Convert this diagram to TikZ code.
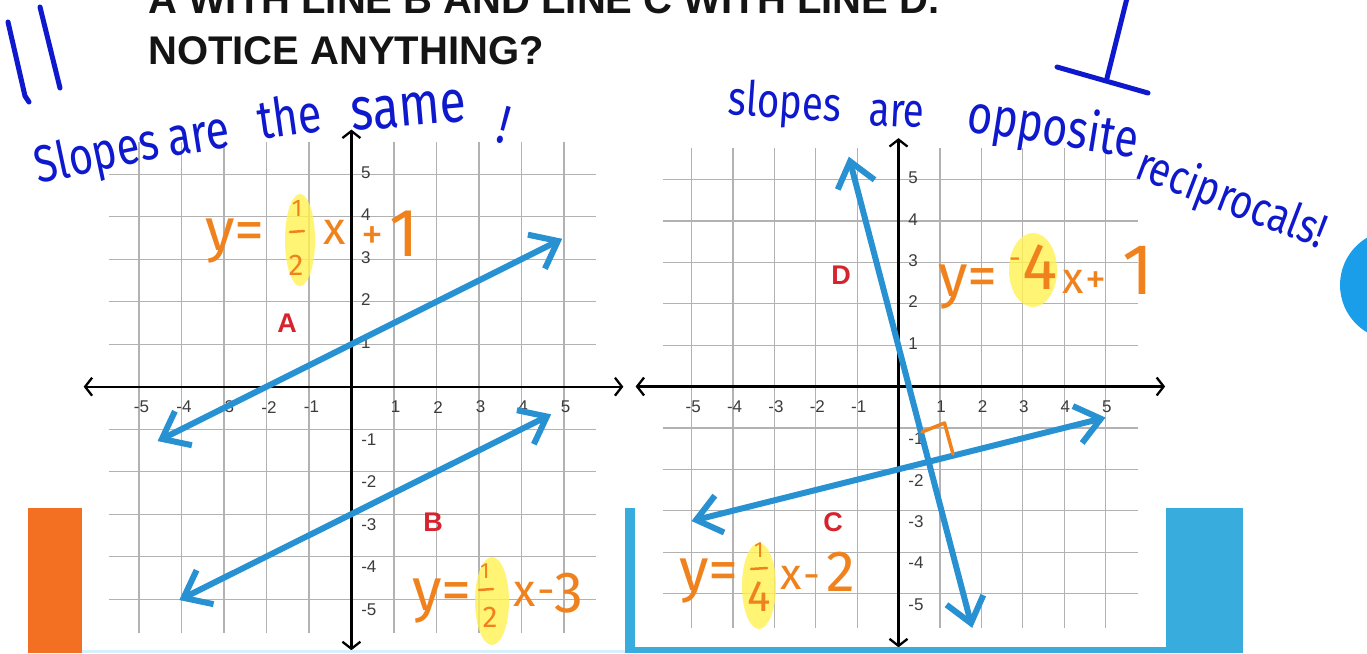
\documentclass[tikz,border=0pt]{standalone}
\usepackage{fontspec}
\setmainfont{Liberation Sans}
\newfontfamily\hand[FakeStretch=0.8]{Fira Sans}
\newfontfamily\handeq{Fira Sans}
\usetikzlibrary{arrows.meta}
\definecolor{penblue}{RGB}{14,24,205}
\definecolor{lineblue}{RGB}{40,145,210}
\definecolor{penorange}{RGB}{240,130,30}
\definecolor{hilite}{RGB}{255,242,80}
\definecolor{labred}{RGB}{215,35,45}
\definecolor{gridgray}{RGB}{178,178,178}
\definecolor{tickgray}{RGB}{60,60,60}
\definecolor{barorange}{RGB}{243,111,33}
\definecolor{barblue}{RGB}{56,172,220}
\definecolor{dotblue}{RGB}{27,158,233}
\definecolor{lightcyan}{RGB}{212,240,250}
\begin{document}
\begin{tikzpicture}[x=1pt,y=-1pt,
  gridline/.style={draw=gridgray, line width=1.2pt},
  axisline/.style={draw=black, line width=2.3pt, >={Straight Barb[length=7pt,width=18pt]}, <->},
  slopeline/.style={draw=lineblue, line width=6pt, line cap=round, >={Straight Barb[length=24pt,width=38pt]}, <->},
  ticklab/.style={font=\fontsize{17}{17}\selectfont, text=tickgray, inner sep=0pt},
  ptlabel/.style={font=\bfseries\fontsize{27}{27}\selectfont, text=labred, inner sep=0pt},
  titletext/.style={font=\bfseries\fontsize{40}{40}\selectfont, text=black!92, inner sep=0pt, anchor=base west},
  handtext/.style={font=\hand\fontsize{54}{54}\selectfont, text=penblue, inner sep=0pt, anchor=base west},
  pen/.style={draw=penblue, line width=5pt, line cap=round, line join=round},
  eq/.style={font=\handeq\fontsize{60}{60}\selectfont, text=penorange, inner sep=0pt},
  orpen/.style={draw=penorange, line width=3.5pt, line cap=round, line join=round},
  hl/.style={fill=hilite, fill opacity=0.8}
]
\useasboundingbox (0,0) rectangle (1367,653);
\fill[white] (0,0) rectangle (1367,653);

% ---------- titles ----------
\node[titletext] (t0) at (148,13) {A WITH LINE B AND LINE C WITH LINE D.};
\node[titletext] (t1) at (148,64) {NOTICE ANYTHING?};

% ---------- left graph ----------
\begin{scope}[shift={(351.4,386.7)}, x=42.5pt, y=42.5pt]
  \foreach \i in {-5,...,5} \draw[gridline] (\i,-5.8) -- (\i,5.75);
  \foreach \j in {-5,...,5} \draw[gridline] (-5.7,\j) -- (5.75,\j);
  \draw[axisline] (-6.3,0) -- (6.4,0);
  \draw[axisline] (0,-6.2) -- (0,6.05);
  \foreach \i in {1,...,5} \node[ticklab] (lxn\i) at (-\i+0.06,-0.48) {-\i};
  \foreach \i in {1,...,5} \node[ticklab] (lxp\i) at (\i+0.04,-0.48) {\i};
  \foreach \j in {1,...,5} \node[ticklab] (lyp\j) at (0.34,\j+0.04) {\j};
  \foreach \j in {1,...,5} \node[ticklab] (lyn\j) at (0.41,-\j-0.24) {-\j};
\end{scope}

% ---------- right graph ----------
\begin{scope}[shift={(898.5,386.5)}, x=41.4pt, y=41.4pt]
  \foreach \i in {-5,...,5} \draw[gridline] (\i,-5.83) -- (\i,5.76);
  \foreach \j in {-5,...,5} \draw[gridline] (-5.69,\j) -- (5.79,\j);
  \draw[axisline] (-6.35,0) -- (6.44,0);
  \draw[axisline] (0,-6.3) -- (0,6.0);
  \foreach \i in {1,...,5} \node[ticklab] (rxn\i) at (-\i+0.04,-0.49) {-\i};
  \foreach \i in {1,...,5} \node[ticklab] (rxp\i) at (\i+0.03,-0.49) {\i};
  \foreach \j in {1,...,5} \node[ticklab] (ryp\j) at (0.35,\j+0.04) {\j};
  \foreach \j in {1,...,5} \node[ticklab] (ryn\j) at (0.42,-\j-0.26) {-\j};
\end{scope}

% ---------- highlights ----------
\fill[hl] (300,240) ellipse [x radius=15pt, y radius=46pt];
\fill[hl] (492,601) ellipse [x radius=17pt, y radius=44pt];
\fill[hl] (1033,270) ellipse [x radius=24pt, y radius=37pt];
\fill[hl] (759,586) ellipse [x radius=17pt, y radius=43pt];

% ---------- slope lines ----------
\begin{scope}[shift={(351.4,386.7)}, x=42.5pt, y=42.5pt]
  \draw[slopeline] (-4.56,-1.28) -- (4.96,3.48);
  \draw[slopeline] (-4.05,-5.02) -- (4.70,-0.65);
\end{scope}
\begin{scope}[shift={(898.5,386.5)}, x=41.4pt, y=41.4pt]
  \draw[slopeline] (-5,-3.25) -- (5,-0.75);
  \draw[slopeline] (-1.2,5.55) -- (1.78,-5.83);
\end{scope}

% right angle mark
\draw[orpen] (922,432) -- (944.5,423) -- (953,454);

% ---------- point labels ----------
\node[ptlabel] (la) at (287,323) {A};
\node[ptlabel] (lb) at (433,522) {B};
\node[ptlabel] (lc) at (833,522) {C};
\node[ptlabel] (ld) at (841,275) {D};

% ---------- orange equations ----------
% y = 1/2 x + 1
\node[eq, anchor=base west] (e1y) at (205,250) {y=};
\node[eq, font=\handeq\fontsize{24}{24}\selectfont] (e1n) at (297,208) {1};
\draw[orpen, line width=2.5pt] (290,232) -- (304,231);
\node[eq, font=\handeq\fontsize{30}{30}\selectfont] (e1d) at (296,265) {2};
\node[eq, font=\handeq\fontsize{46}{46}\selectfont] (e1x) at (335,232) {x};
\node[eq, font=\handeq\fontsize{44}{44}\selectfont] (e1p) at (372,238) {+};
\node[eq, font=\handeq\fontsize{68}{68}\selectfont] (e1c) at (404,234) {1};
% y = 1/2 x - 3
\node[eq, anchor=base west] (e2y) at (412,610) {y=};
\node[eq, font=\handeq\fontsize{22}{22}\selectfont] (e2n) at (485,571) {1};
\draw[orpen, line width=2.5pt] (479,590) -- (493,589);
\node[eq, font=\handeq\fontsize{30}{30}\selectfont] (e2d) at (490,617) {2};
\node[eq, font=\handeq\fontsize{46}{46}\selectfont] (e2x) at (525,594) {x};
\node[eq, font=\handeq\fontsize{44}{44}\selectfont] (e2m) at (546,598) {-};
\node[eq, font=\handeq\fontsize{58}{58}\selectfont] (e2c) at (569,593) {3};
% y = -4x + 1
\node[eq, anchor=base west] (e3y) at (938,296) {y=};
\node[eq, font=\handeq\fontsize{30}{30}\selectfont] (e3m) at (1015,263) {-};
\node[eq, font=\handeq\fontsize{66}{66}\selectfont] (e3n) at (1040,267) {4};
\node[eq, font=\handeq\fontsize{44}{44}\selectfont] (e3x) at (1073,282) {x};
\node[eq, font=\handeq\fontsize{42}{42}\selectfont] (e3p) at (1096,283) {+};
\node[eq, font=\handeq\fontsize{72}{72}\selectfont] (e3c) at (1138,270) {1};
% y = 1/4 x - 2
\node[eq, anchor=base west] (e4y) at (679,590) {y=};
\node[eq, font=\handeq\fontsize{22}{22}\selectfont] (e4n) at (759,550) {1};
\draw[orpen, line width=2.5pt] (751,569) -- (767,568);
\node[eq, font=\handeq\fontsize{44}{44}\selectfont] (e4d) at (759,597) {4};
\node[eq, font=\handeq\fontsize{44}{44}\selectfont] (e4x) at (791,578) {x};
\node[eq, font=\handeq\fontsize{42}{42}\selectfont] (e4m) at (812,582) {-};
\node[eq, font=\handeq\fontsize{58}{58}\selectfont] (e4c) at (841,572) {2};

% ---------- blue handwriting ----------
\draw[pen] (8,22) -- (25,96) -- (29,102);
\draw[pen] (40,7) -- (60,88);
\draw[pen] (1127,-2) -- (1107,78);
\draw[pen] (1057,67) -- (1148,93);

\node[handtext, font=\hand\fontsize{52}{52}\selectfont, rotate=12] (h1) at (38,184) {Slopes};
\node[handtext, rotate=9] (h2) at (170,157) {are};
\node[handtext, rotate=8] (h3) at (260,140) {the};
\node[handtext, font=\hand\fontsize{60}{60}\selectfont, rotate=5] (h4) at (352,131) {same};
\node[handtext, rotate=-15] (h5) at (494,141) {!};

\node[handtext, font=\hand\fontsize{48}{48}\selectfont, rotate=-4] (k1) at (727,114) {slopes};
\node[handtext, font=\hand\fontsize{48}{48}\selectfont, rotate=-3] (k2) at (868,125) {are};
\node[handtext, rotate=-9] (k3) at (965,131) {opposite};
\node[handtext, font=\hand\fontsize{48}{48}\selectfont, rotate=-21] (k4) at (1133,177) {reciprocals!};

% ---------- decorative bars ----------
\fill[lightcyan] (82,649.5) rectangle (625,653);
\fill[barorange] (28,508) rectangle (82,653);
\fill[barblue] (625,508) rectangle (635,653);
\fill[barblue] (625,647) rectangle (1167,653);
\fill[barblue] (1166,508) rectangle (1243,653);
\fill[dotblue] (1395,285) circle [radius=55pt];
\end{tikzpicture}
\end{document}
